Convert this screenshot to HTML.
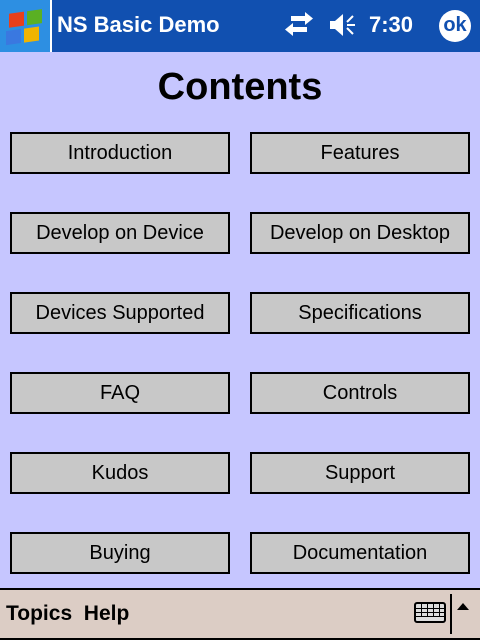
<!DOCTYPE html>
<html><head><style>
body{margin:0;width:480px;height:640px;position:relative;background:#c6c6ff;font-family:"Liberation Sans","DejaVu Sans",sans-serif;overflow:hidden}
.top{position:absolute;left:0;top:0;width:480px;height:52px;background:#1150b0}
.logo{position:absolute;left:0;top:0;width:50px;height:52px;background:#2d8fe2;border-right:2px solid #fff}
.title{position:absolute;left:57px;top:12px;color:#fff;font-weight:bold;font-size:22px}
.time{position:absolute;left:369px;top:12px;color:#fff;font-weight:bold;font-size:22px}
.ok{position:absolute;left:439px;top:10px;width:32px;height:32px;border-radius:50%;background:#fff;color:#1150b0;font-weight:bold;font-size:20px;text-align:center;line-height:30px}
h1{position:absolute;left:0;width:480px;top:66px;margin:0;text-align:center;font-size:38px;font-weight:bold}
.b{position:absolute;width:216px;height:38px;border:2px solid #000;background:#c8c8c8;font-size:20px;text-align:center;line-height:38px;box-sizing:content-box}
.bar{position:absolute;left:0;top:588px;width:480px;background:#dccdc5;border-top:2px solid #000;border-bottom:2px solid #000;box-sizing:border-box;height:52px}
.menu{position:absolute;left:6px;top:602px;font-weight:bold;font-size:21px}
</style></head><body>
<div class="top"></div>
<div class="logo"><svg width="50" height="52"><g transform="skewY(-8) translate(0,6)"><rect x="9" y="9" width="15" height="14" fill="#e8401c"/><rect x="27" y="9" width="15" height="14" fill="#5ab023"/><rect x="6" y="26" width="15" height="14" fill="#3a78e0"/><rect x="24" y="26" width="15" height="14" fill="#f0b400"/></g></svg></div>
<div class="title">NS Basic Demo</div>
<svg style="position:absolute;left:285px;top:12px" width="80" height="28"><g fill="#fff"><rect x="6" y="4" width="14" height="5"/><polygon points="20,0 28,6.5 20,13"/><rect x="8" y="15" width="14" height="5"/><polygon points="8,11 0,17.5 8,24"/><rect x="45" y="9" width="5" height="8"/><polygon points="50,9 58,2 58,24 50,17"/></g><g stroke="#fff" stroke-width="2"><line x1="62" y1="10" x2="68" y2="4"/><line x1="62" y1="13" x2="70" y2="13"/><line x1="62" y1="16" x2="68" y2="22"/></g></svg>
<div class="time">7:30</div>
<div class="ok">ok</div>
<h1>Contents</h1>
<div class="b" style="left:10px;top:132px">Introduction</div><div class="b" style="left:250px;top:132px">Features</div>
<div class="b" style="left:10px;top:212px">Develop on Device</div><div class="b" style="left:250px;top:212px">Develop on Desktop</div>
<div class="b" style="left:10px;top:292px">Devices Supported</div><div class="b" style="left:250px;top:292px">Specifications</div>
<div class="b" style="left:10px;top:372px">FAQ</div><div class="b" style="left:250px;top:372px">Controls</div>
<div class="b" style="left:10px;top:452px">Kudos</div><div class="b" style="left:250px;top:452px">Support</div>
<div class="b" style="left:10px;top:532px">Buying</div><div class="b" style="left:250px;top:532px">Documentation</div>
<div class="bar"></div>
<div class="menu">Topics&nbsp; Help</div>
<svg style="position:absolute;left:413px;top:600px" width="36" height="24"><rect x="2" y="3" width="30" height="19" rx="2" fill="#ddd" stroke="#000" stroke-width="2"/><g stroke="#000" stroke-width="1"><line x1="3" y1="8.5" x2="31" y2="8.5"/><line x1="3" y1="12.5" x2="31" y2="12.5"/><line x1="3" y1="16.5" x2="31" y2="16.5"/><line x1="8.5" y1="4" x2="8.5" y2="17"/><line x1="14.5" y1="4" x2="14.5" y2="17"/><line x1="20.5" y1="4" x2="20.5" y2="17"/><line x1="26.5" y1="4" x2="26.5" y2="17"/></g></svg>
<div style="position:absolute;left:450px;top:594px;width:2px;height:40px;background:#000"></div>
<svg style="position:absolute;left:455px;top:600px" width="16" height="12"><polygon points="2,10 8,3 14,10" fill="#000"/></svg>
</body></html>
